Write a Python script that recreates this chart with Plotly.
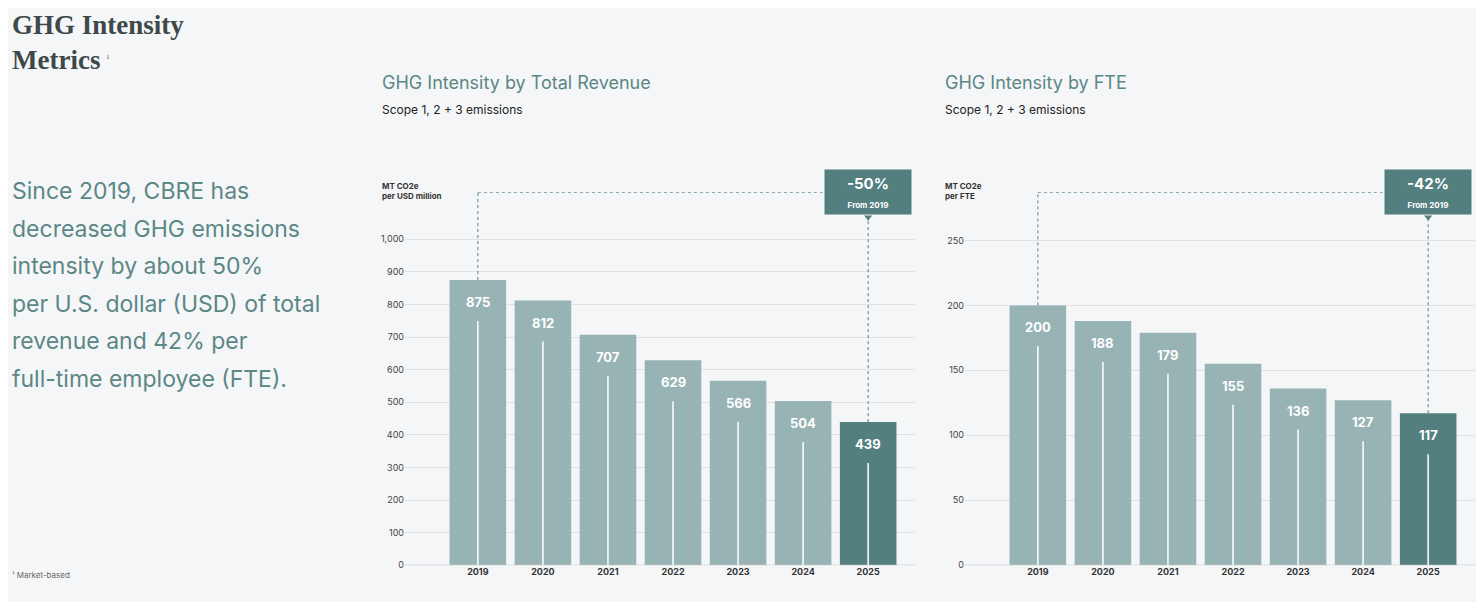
import plotly.graph_objects as go

years = ["2019", "2020", "2021", "2022", "2023", "2024", "2025"]
revenue_vals = [875, 812, 707, 629, 566, 504, 439]
fte_vals = [200, 188, 179, 155, 136, 127, 117]
revenue_ticks = [0, 100, 200, 300, 400, 500, 600, 700, 800, 900, 1000]
fte_ticks = [0, 50, 100, 150, 200, 250]

LIGHT = '#97b3b4'
DARK = '#537f7f'
TEAL = '#5b8785'
BG = '#f5f6f8'

W, H = 1476, 594  # page has an 8px body margin


def px(x):
    return (x - 8) / W


def py(y):
    return 1 - (y - 8) / H


fig = go.Figure()


def add_panel(vals, xa, ya, ymax, px_per_unit, pct):
    colors = [LIGHT] * (len(vals) - 1) + [DARK]
    idx = list(range(len(vals)))
    fig.add_trace(go.Bar(x=idx, y=vals, marker=dict(color=colors, line_width=0),
                         width=0.87, xaxis=xa, yaxis=ya, showlegend=False,
                         hovertext=years, hoverinfo='text+y'))
    off = 41 / px_per_unit
    for i, v in zip(idx, vals):
        # thin white line inside each bar
        fig.add_shape(type='line', xref=xa, yref=ya, x0=i, x1=i, y0=0, y1=v - off,
                      line=dict(color='white', width=1.5))
        fig.add_annotation(x=i, y=v, xref=xa, yref=ya, text='<b>%d</b>' % v, showarrow=False,
                           yshift=-22, font=dict(size=13, color='white', family='Inter'))
    last = idx[-1]
    top = ymax
    dot = dict(color=DARK, width=1, dash='dot')
    fig.add_shape(type='line', xref=xa, yref=ya, x0=0, x1=0, y0=vals[0], y1=top, line=dot)
    fig.add_shape(type='line', xref=xa, yref=ya, x0=0, x1=5.3, y0=top, y1=top, line=dot)
    fig.add_shape(type='line', xref=xa, yref=ya, x0=last, x1=last, y0=vals[-1],
                  y1=top - 28 / px_per_unit, line=dot)
    fig.add_annotation(x=last, y=top, xref=xa, yref=ya, showarrow=False,
                       text="<b>%s</b><br><span style='font-size:8px'><b>From 2019</b></span>" % pct,
                       font=dict(size=15, color='white', family='Inter'), bgcolor=DARK,
                       width=82, height=40, borderpad=2)
    fig.add_trace(go.Scatter(x=[last], y=[top - 25 / px_per_unit], mode='markers',
                             marker=dict(symbol='triangle-down', size=7, color=DARK),
                             xaxis=xa, yaxis=ya, showlegend=False, hoverinfo='skip'))


add_panel(revenue_vals, 'x', 'y', 1144, 0.326, '-50%')
add_panel(fte_vals, 'x2', 'y2', 287, 1.3, '-42%')

xcommon = dict(type='linear', showgrid=False, zeroline=False, showline=False, ticks='',
               range=[-1.12, 6.72], tickvals=list(range(len(years))),
               ticktext=['<b>%s</b>' % y for y in years],
               tickfont=dict(size=9, color='#333', family='Inter'))
ycommon = dict(showgrid=True, gridcolor='#dfe1e3', zeroline=False, domain=[0.054, 0.687],
               tickfont=dict(size=9, color='#444', family='Inter'))
fig.update_layout(
    width=W, height=H, margin=dict(l=0, r=0, t=0, b=0),
    paper_bgcolor=BG, plot_bgcolor=BG, bargap=0.13,
    xaxis=dict(domain=[px(405), px(915)], anchor='y', **xcommon),
    xaxis2=dict(domain=[px(965), px(1475)], anchor='y2', **xcommon),
    yaxis=dict(range=[0, 1144], tickvals=revenue_ticks, anchor='x',
               ticktext=['{:,}'.format(t) for t in revenue_ticks], **ycommon),
    yaxis2=dict(range=[0, 287], tickvals=fte_ticks, anchor='x2', **ycommon),
)

fig.add_shape(type='line', xref='x domain', yref='y', x0=0, x1=1, y0=0, y1=0, line=dict(color='#c4c7c9', width=1))
fig.add_shape(type='line', xref='x2 domain', yref='y2', x0=0, x1=1, y0=0, y1=0, line=dict(color='#c4c7c9', width=1))


def text(x, y, s, size, color, family='Inter'):
    fig.add_annotation(x=px(x), y=py(y), xref='paper', yref='paper', text=s, showarrow=False,
                       xanchor='left', yanchor='middle', align='left',
                       font=dict(size=size, color=color, family=family))


text(10, 25, '<b>GHG Intensity</b>', 27, '#3d4949', family='Liberation Serif')
text(10, 60, '<b>Metrics</b>', 27, '#3d4949', family='Liberation Serif')
text(104, 57, '1', 7, '#3d4949', family='Liberation Serif')

body = ['Since 2019, CBRE has', 'decreased GHG emissions', 'intensity by about 50%',
        'per U.S. dollar (USD) of total', 'revenue and 42% per', 'full-time employee (FTE).']
for i, line in enumerate(body):
    text(10, 193 + i * 37.8, line, 23, TEAL)

text(10, 580, '¹ Market-based', 8, '#666')

text(380, 83, 'GHG Intensity by Total Revenue', 18, TEAL)
text(380, 110, 'Scope 1, 2 + 3 emissions', 12, '#222')
text(380, 193, '<b>MT CO2e<br>per USD million</b>', 8, '#333')
text(943, 83, 'GHG Intensity by FTE', 18, TEAL)
text(943, 110, 'Scope 1, 2 + 3 emissions', 12, '#222')
text(943, 193, '<b>MT CO2e<br>per FTE</b>', 8, '#333')

fig.write_html("out.html")
